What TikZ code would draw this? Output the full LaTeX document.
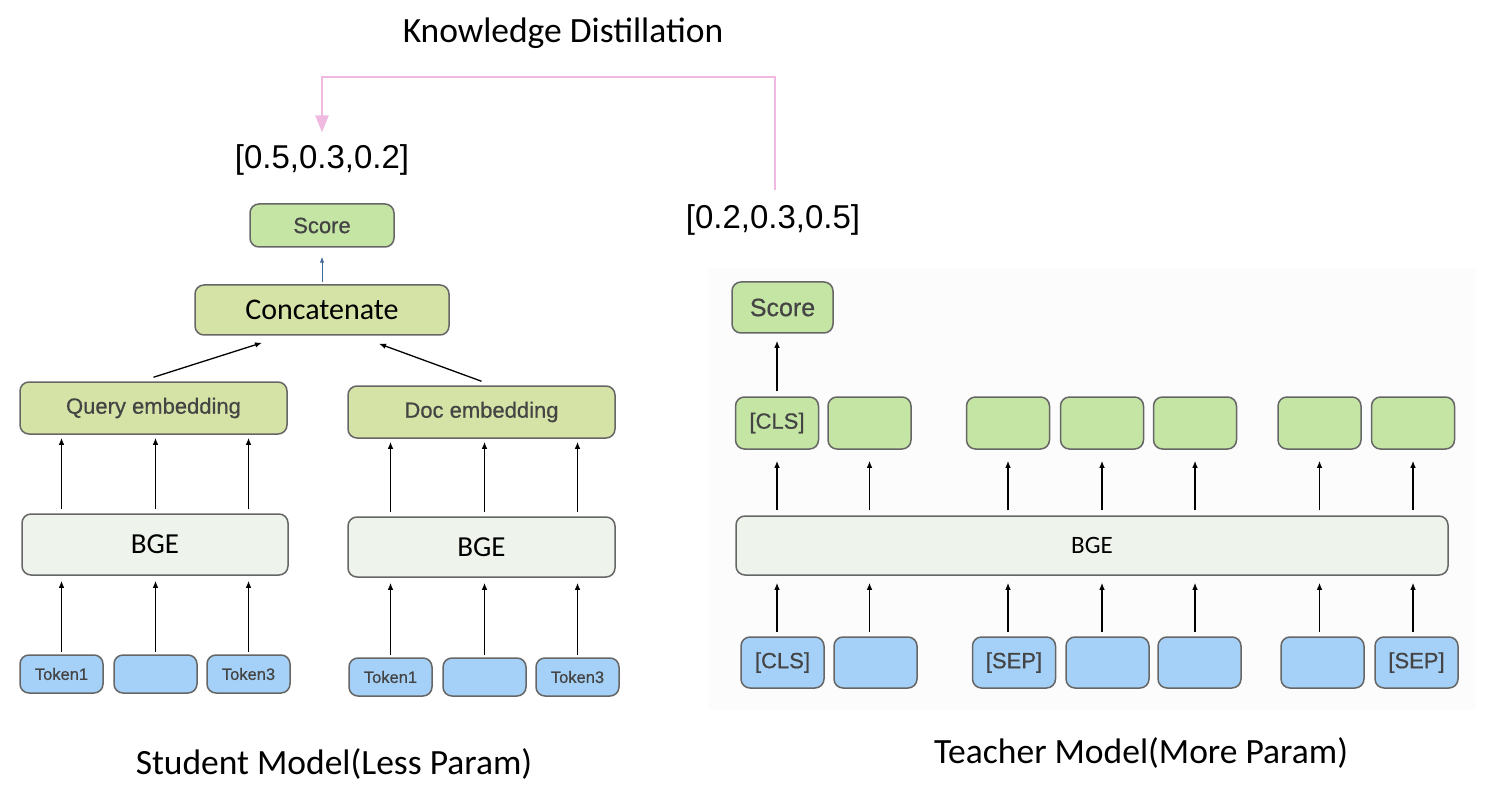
\documentclass[tikz,border=0pt]{standalone}
\usepackage{fontspec}
\setmainfont{Carlito}
\newfontfamily\hel{Liberation Sans}[FakeBold=0.6]
\newfontfamily\helv{Liberation Sans}
\usetikzlibrary{arrows.meta}
\definecolor{scoregreen}{HTML}{C5E5A5}
\definecolor{embgreen}{HTML}{D5E4A6}
\definecolor{bgefill}{HTML}{EEF3EC}
\definecolor{tokblue}{HTML}{A5D1F8}
\definecolor{boxline}{HTML}{666666}
\definecolor{boxtext}{HTML}{444444}
\definecolor{kdpink}{HTML}{EFB9E1}
\definecolor{arrowblue}{HTML}{3C6A96}
\definecolor{tbg}{HTML}{FCFCFC}
\begin{document}
\begin{tikzpicture}[x=1pt,y=-1pt,
  box/.style={draw=boxline, line width=1.5pt, rounded corners=9pt, inner sep=0pt, align=center},
  sbox/.style={box, fill=scoregreen, text=boxtext, font=\hel\fontsize{22}{26}\selectfont},
  ebox/.style={box, fill=embgreen},
  bgebox/.style={box, fill=bgefill, font=\fontsize{29}{32}\selectfont},
  tokbox/.style={box, fill=tokblue, text=boxtext, font=\hel\fontsize{16.5}{19}\selectfont},
  tokboxT/.style={box, fill=tokblue, text=boxtext, font=\hel\fontsize{22}{26}\selectfont, minimum width=83pt, minimum height=51pt},
  outboxT/.style={box, fill=scoregreen, text=boxtext, font=\hel\fontsize{22}{26}\selectfont, minimum width=83pt, minimum height=52pt},
  arr/.style={-{Latex[length=7pt,width=5.5pt]}, line width=1.3pt, black},
  kdline/.style={-{Triangle[length=17pt,width=13pt,fill=kdpink]}, line width=2.2pt, draw=kdpink},
  bigtext/.style={font=\fontsize{35.5}{40}\selectfont, inner sep=0pt},
  vectext/.style={font=\helv\fontsize{33}{38}\selectfont, inner sep=0pt}
]
\useasboundingbox[fill=white] (0,0) rectangle (1494,802);
\fill[tbg] (708,268) rectangle (1476,710);

% titles and vectors
\node[bigtext] (kd) at (563,33) {Knowledge Distillation};
\node[vectext] (sv) at (322,160) {[0.5,0.3,0.2]};
\node[vectext] (tv) at (773,220) {[0.2,0.3,0.5]};
\coordinate (kdR) at (775,77);
\coordinate (kdL) at (322,77);
\draw[kdline] ([yshift=14pt]tv.north -| kdR) -- (kdR) -- (kdL) -- ([yshift=12pt]sv.north -| kdL);

% ---------- student ----------
\node[sbox, minimum width=144pt, minimum height=43pt] (sscore) at (322,225.5) {Score};
\node[ebox, minimum width=254pt, minimum height=50pt, font=\fontsize{30}{34}\selectfont] (concat) at (322,310) {Concatenate};
\node[ebox, minimum width=267pt, minimum height=52pt, text=boxtext, font=\hel\fontsize{22}{26}\selectfont] (qemb) at (153.5,408) {Query embedding};
\node[ebox, minimum width=267pt, minimum height=52pt, text=boxtext, font=\hel\fontsize{22}{26}\selectfont] (demb) at (481.5,412) {Doc embedding};
\node[bgebox, minimum width=266pt, minimum height=61pt] (bgeL) at (155,544.5) {BGE};
\node[bgebox, minimum width=267pt, minimum height=60pt] (bgeR) at (481.5,547) {BGE};

\node[tokbox, minimum width=83pt, minimum height=38pt] (tL1) at (61.5,674) {Token1};
\node[tokbox, minimum width=83pt, minimum height=38pt] (tL2) at (155.5,674) {};
\node[tokbox, minimum width=83pt, minimum height=38pt] (tL3) at (248.5,674) {Token3};
\node[tokbox, minimum width=83pt, minimum height=38pt] (tR1) at (390.5,677) {Token1};
\node[tokbox, minimum width=83pt, minimum height=38pt] (tR2) at (484.5,677) {};
\node[tokbox, minimum width=83pt, minimum height=38pt] (tR3) at (577.5,677) {Token3};

\foreach \t in {tL1,tL2,tL3}{
  \draw[arr, shorten <=2pt, shorten >=5pt] (\t.north) -- (\t.north |- bgeL.south);
  \draw[arr, shorten <=4pt, shorten >=3pt] (\t.north |- bgeL.north) -- (\t.north |- qemb.south);
}
\foreach \t in {tR1,tR2,tR3}{
  \draw[arr, shorten <=2pt, shorten >=5pt] (\t.north) -- (\t.north |- bgeR.south);
  \draw[arr, shorten <=4pt, shorten >=3pt] (\t.north |- bgeR.north) -- (\t.north |- demb.south);
}
\draw[arr] ([yshift=4pt]qemb.north) -- ([xshift=-60pt,yshift=-7pt]concat.south);
\draw[arr] ([yshift=4pt]demb.north) -- ([xshift=57pt,yshift=-8pt]concat.south);
\draw[-{Latex[length=6pt,width=4.5pt]}, line width=1pt, arrowblue, shorten <=2pt, shorten >=9pt] (concat.north) -- (sscore.south);

\node[bigtext] (scap) at (334,764) {Student Model(Less Param)};

% ---------- teacher ----------
\node[sbox, minimum width=101pt, minimum height=51pt, font=\hel\fontsize{25}{29}\selectfont] (tscore) at (782.5,307.5) {Score};
\node[outboxT] (g1) at (777,423) {[CLS]};
\node[outboxT] (g2) at (869.5,423) {};
\node[outboxT] (g3) at (1008,423) {};
\node[outboxT] (g4) at (1102,423) {};
\node[outboxT] (g5) at (1195,423) {};
\node[outboxT] (g6) at (1319.5,423) {};
\node[outboxT] (g7) at (1413,423) {};
\node[bgebox, minimum width=712pt, minimum height=59pt, font=\fontsize{25}{28}\selectfont] (tbge) at (1092,545.5) {BGE};
\node[tokboxT] (b1) at (782.5,662.5) {[CLS]};
\node[tokboxT] (b2) at (875.5,662.5) {};
\node[tokboxT] (b3) at (1014,662.5) {[SEP]};
\node[tokboxT] (b4) at (1107.5,662.5) {};
\node[tokboxT] (b5) at (1199.5,662.5) {};
\node[tokboxT] (b6) at (1322.5,662.5) {};
\node[tokboxT] (b7) at (1416.5,662.5) {[SEP]};

\foreach \i in {1,...,7}{
  \draw[arr, shorten <=4pt, shorten >=7pt] (g\i |- b\i.north) -- (g\i |- tbge.south);
  \draw[arr, shorten <=5pt, shorten >=11pt] (g\i |- tbge.north) -- (g\i.south);
}
\draw[arr, shorten <=5pt, shorten >=7pt] (g1.north) -- (g1 |- tscore.south);

\node[bigtext] (tcap) at (1141,753) {Teacher Model(More Param)};
\end{tikzpicture}
\end{document}
